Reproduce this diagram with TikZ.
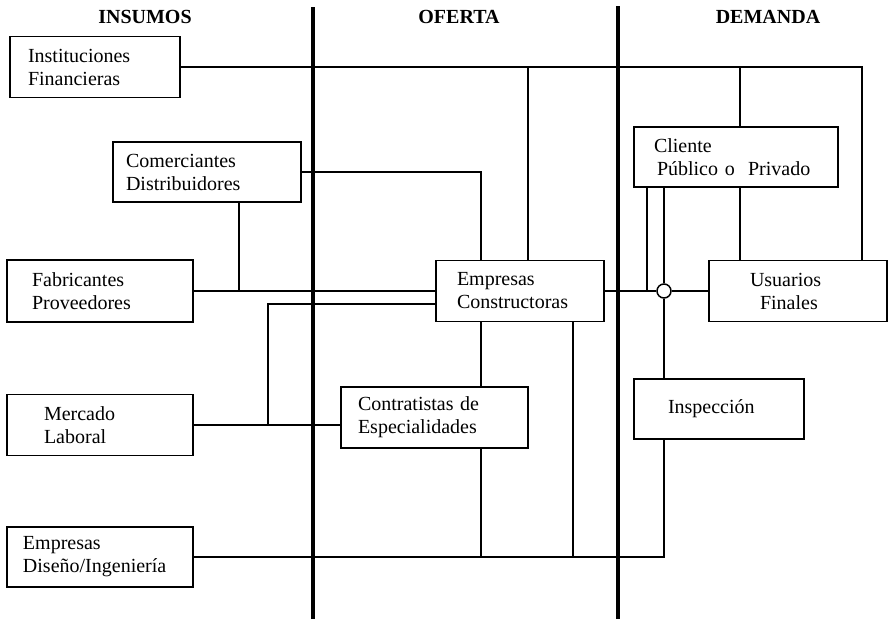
\documentclass[tikz,border=0pt]{standalone}
\usepackage{fontspec}
\setmainfont{Liberation Serif}
\begin{document}
\begin{tikzpicture}[x=1pt,y=-1pt,
  font=\fontsize{20}{23}\selectfont,
  caja/.style n args={3}{draw,line width=1.7pt,minimum height=#2,inner xsep=#3,text width=#1-2*#3,align=left},
  titulo/.style={font=\fontsize{20}{23}\selectfont\bfseries},
  linea/.style={line width=1.3pt},
  eje/.style={line width=4pt}]
 \useasboundingbox (0,0) rectangle (889,619);
 \node[titulo] (tins) at (145,17) {INSUMOS};
 \node[titulo] (tofe) at (459,17) {OFERTA};
 \node[titulo] (tdem) at (768,17) {DEMANDA};
 \node[caja={170}{61}{18}] (fin) at (95,67) {Instituciones\\Financieras};
 \node[caja={188}{60}{13}] (com) at (207,172) {Comerciantes\\Distribuidores};
 \node[caja={186}{62}{25}] (fab) at (100,291) {Fabricantes\\Proveedores};
 \node[caja={186}{61}{37}] (mer) at (100,425) {Mercado\\Laboral};
 \node[caja={186}{60}{16}] (dis) at (100,557) {Empresas\\Diseño/Ingeniería};
 \node[caja={168}{61}{21}] (emp) at (520,291) {Empresas\\Constructoras};
 \node[caja={187}{61}{17}] (con) at (434.5,417.5) {Contratistas de\\Especialidades};
 \node[caja={204}{60}{20}] (cli) at (736,157) {Cliente\\\hspace*{3pt}Público o\ \ Privado};
 \node[caja={178}{61}{41}] (usu) at (798,291) {Usuarios\\\hspace*{10pt}Finales};
 \node[caja={170}{60}{34}] (ins) at (719,409) {Inspección};
 \node[draw,circle,line width=1.5pt,fill=white,minimum size=14pt,inner sep=0pt] (nudo) at (664,291) {};
 \coordinate (tr) at (862,67);
 \coordinate (t1) at (528,67);
 \coordinate (t2) at (740,67);
 \coordinate (m1) at (268,425);
 \draw[linea] (fin.east) -- (tr) -- (tr |- usu.north);
 \draw[linea] (t1) -- (t1 |- emp.north);
 \draw[linea] (t2) -- (t2 |- cli.north);
 \draw[linea] (com.east) -| ([xshift=-39pt]emp.north);
 \draw[linea] ([xshift=32pt]com.south) -- ([xshift=32pt]com.south |- fab.east);
 \draw[linea] (fab.east) -- (emp.west);
 \draw[linea] ([yshift=-13pt]emp.west) -| (m1);
 \draw[linea] (mer.east) -- (mer.east -| con.west);
 \draw[linea] ([xshift=-39pt]emp.south) -- ([xshift=-39pt]emp.south |- con.north);
 \draw[linea] ([xshift=46.5pt]con.south) -- ([xshift=46.5pt]con.south |- dis.east);
 \draw[linea] ([xshift=53pt]emp.south) -- ([xshift=53pt]emp.south |- dis.east);
 \draw[linea] (dis.east) -| ([xshift=-55pt]ins.south);
 \draw[linea] (emp.east) -- (nudo.west);
 \draw[linea,line width=2.2pt] (nudo.east) -- (usu.west);
 \draw[linea] ([xshift=-89pt]cli.south) -- ([xshift=-89pt]cli.south |- nudo);
 \draw[linea] (cli.south -| nudo) -- (nudo.north);
 \draw[linea] (nudo.south) -- (nudo |- ins.north);
 \draw[linea] ([xshift=4pt]cli.south) -- ([xshift=4pt]cli.south |- usu.north);
 \draw[eje] (313,7) -- (313,619);
 \draw[eje] (618,6) -- (618,619);
\end{tikzpicture}
\end{document}
